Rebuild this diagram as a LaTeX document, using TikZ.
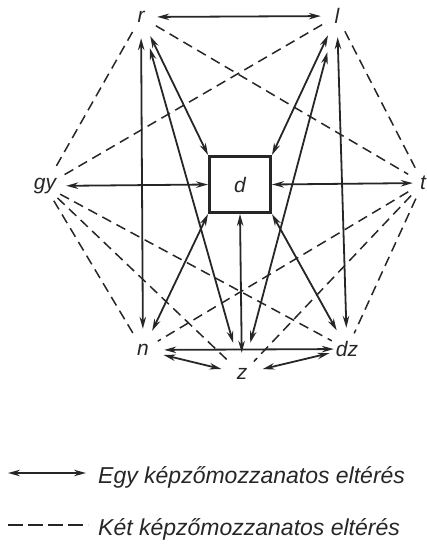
\documentclass[tikz,border=0pt]{standalone}
\usepackage{fontspec}
\setmainfont{Liberation Sans}
\usetikzlibrary{arrows.meta}
\definecolor{ink}{RGB}{38,38,38}
\begin{document}
\begin{tikzpicture}[x=1pt,y=-1pt,
  lbl/.style={circle,minimum size=42pt,inner sep=0pt,font=\fontsize{21}{21}\itshape\selectfont,text=ink},
  twoway/.style={ink,line width=1.8pt,{Stealth[length=12pt,width=6.5pt]}-{Stealth[length=12pt,width=6.5pt]}},
  dsh/.style={ink,line width=1.5pt,dash pattern=on 10pt off 6pt,shorten <=-4pt,shorten >=-4pt},
  legend/.style={font=\fontsize{23}{23}\itshape\selectfont,text=ink,anchor=base west,inner sep=0pt}
  ]
\useasboundingbox (0,0) rectangle (426,549);
% nodes
\node[lbl] (r) at (141,17) {r};
\node[lbl] (l) at (337,16) {l};
\node[lbl] (gy) at (45,186) {gy};
\node[lbl] (t) at (423,183) {t};
\node[draw=ink,line width=3pt,minimum width=61pt,minimum height=56pt,inner sep=0pt,
      font=\fontsize{21}{21}\itshape\selectfont,text=ink] (d) at (240,184.5) {d};
\node[lbl] (n) at (143,350) {n};
\node[lbl] (z) at (242,374) {z};
\node[lbl] (dz) at (347,349) {dz};
% dashed connectors
\draw[dsh] (r) -- (gy);
\draw[dsh] (r) -- (t);
\draw[dsh] (l) -- (gy);
\draw[dsh] (l) -- (t);
\draw[dsh] (gy) -- (n);
\draw[dsh] (gy) -- (z);
\draw[dsh] (gy) -- (dz);
\draw[dsh] (t) -- (n);
\draw[dsh] (t) -- (z);
\draw[dsh] (t) -- (dz);
% solid connectors
\draw[twoway,shorten <=-5pt,shorten >=-5pt] (r) -- (l);
\draw[twoway] (r) -- (n);
\draw[twoway,shorten <=11pt,shorten >=11pt] (r) -- (z);
\draw[twoway] (r) -- (d.north west);
\draw[twoway] (l) -- (dz);
\draw[twoway,shorten <=16pt,shorten >=11pt] (l) -- (z);
\draw[twoway] (l) -- (d.north east);
\draw[twoway] (gy) -- (d.west);
\draw[twoway,shorten >=-11pt] (d.east) -- (t);
\draw[twoway] (d.south) -- (z);
\draw[twoway] (n) -- (d.south west);
\draw[twoway] (dz) -- (d.south east);
\draw[twoway,shorten >=-8pt] (n) -- (dz);
\draw[twoway] (n) -- (z);
\draw[twoway,shorten >=-3pt] (z) -- (dz);
% legend
\coordinate (a1) at (8,473);
\coordinate (a2) at (86,473);
\draw[twoway] (a1) -- (a2);
\node[legend] (e1) at (98,483) {Egy képzőmozzanatos eltérés};
\coordinate (b1) at (8,525);
\coordinate (b2) at (88,525);
\draw[ink,line width=1.6pt,dash pattern=on 15pt off 5pt] (b1) -- (b2);
\node[legend] (e2) at (98,535) {Két képzőmozzanatos eltérés};
\end{tikzpicture}
\end{document}
